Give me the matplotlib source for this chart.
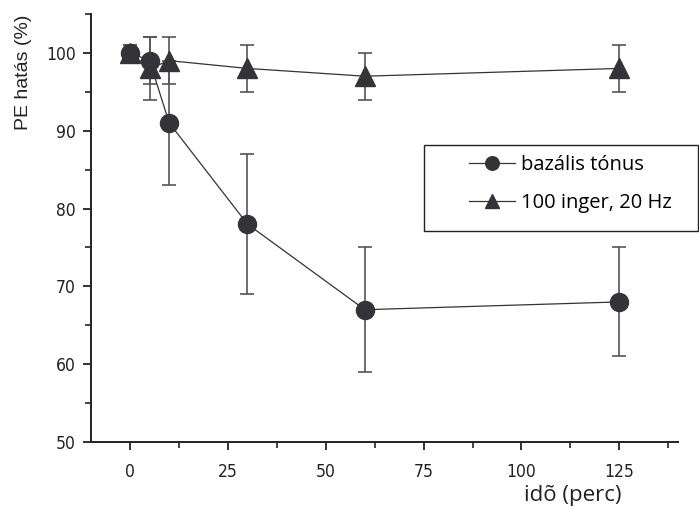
import matplotlib.pyplot as plt
from matplotlib.patches import Rectangle
from matplotlib.ticker import MultipleLocator

# time points (min)
ido = [0, 5, 10, 30, 60, 125]

# PE effect (%) with SEM
bazalis = [100, 99, 91, 78, 67, 68]
bazalis_err = [1, 3, 8, 9, 8, 7]
inger = [100, 98, 99, 98, 97, 98]
inger_err = [1, 4, 3, 3, 3, 3]

dark = "#333338"
label_font = "Open Sans"

fig = plt.figure(figsize=(6.99, 5.09), dpi=100)
ax = fig.add_axes([0.130, 0.1316, 0.840, 0.841])

ax.errorbar(ido, inger, yerr=inger_err, fmt="none", ecolor="#555555",
            elinewidth=1.2, capsize=5, capthick=1.2, zorder=1)
ax.errorbar(ido, bazalis, yerr=bazalis_err, fmt="none", ecolor="#555555",
            elinewidth=1.2, capsize=5, capthick=1.2, zorder=1)

ax.plot(ido, inger, color=dark, lw=0.9, marker="^", ms=14, mfc=dark,
        mec=dark, label="100 inger, 20 Hz", zorder=3)
ax.plot(ido, bazalis, color=dark, lw=0.9, marker="o", ms=13, mfc=dark,
        mec=dark, label="bazális tónus", zorder=4)

ax.set_xlim(-10, 140)
ax.set_ylim(50, 105)
ax.xaxis.set_major_locator(MultipleLocator(25))
ax.xaxis.set_minor_locator(MultipleLocator(12.5))
ax.yaxis.set_major_locator(MultipleLocator(10))
ax.yaxis.set_minor_locator(MultipleLocator(5))

for side in ("top", "right"):
    ax.spines[side].set_visible(False)
for side in ("left", "bottom"):
    ax.spines[side].set_linewidth(1.4)
    ax.spines[side].set_color("#222222")

ax.tick_params(which="major", direction="out", length=6, width=1.3,
               colors="#222222", labelsize=12.5)
ax.tick_params(which="minor", direction="out", length=4, width=1.2,
               colors="#222222")
for lbl in ax.get_xticklabels() + ax.get_yticklabels():
    lbl.set_fontfamily("DejaVu Sans")
    lbl.set_fontstretch("condensed")
ax.tick_params(axis="x", pad=9)
ax.tick_params(axis="y", pad=5)

fig.text(0.034, 0.858, "PE hatás (%)", rotation=90, ha="center", va="center",
         fontsize=14, family="Liberation Sans", color="#222222")
fig.text(0.820, 0.0275, "idõ (perc)", ha="center", va="center",
         fontsize=16, family=label_font, color="#222222")

# legend: frame drawn separately, entries placed inside it
fig.patches.append(Rectangle((0.6066, 0.5462), 0.392, 0.1689,
                             transform=fig.transFigure, fill=False,
                             edgecolor="#222222", linewidth=1.0))
handles, labels = ax.get_legend_handles_labels()
leg = fig.legend(handles[::-1], labels[::-1], loc="center left",
                 bbox_to_anchor=(0.671, 0.6385), frameon=False,
                 prop={"family": label_font, "size": 14.5},
                 handlelength=2.3, borderpad=0, borderaxespad=0,
                 labelspacing=0.85, handletextpad=0.3, markerscale=0.75)

fig.savefig("out.png", dpi=100)
